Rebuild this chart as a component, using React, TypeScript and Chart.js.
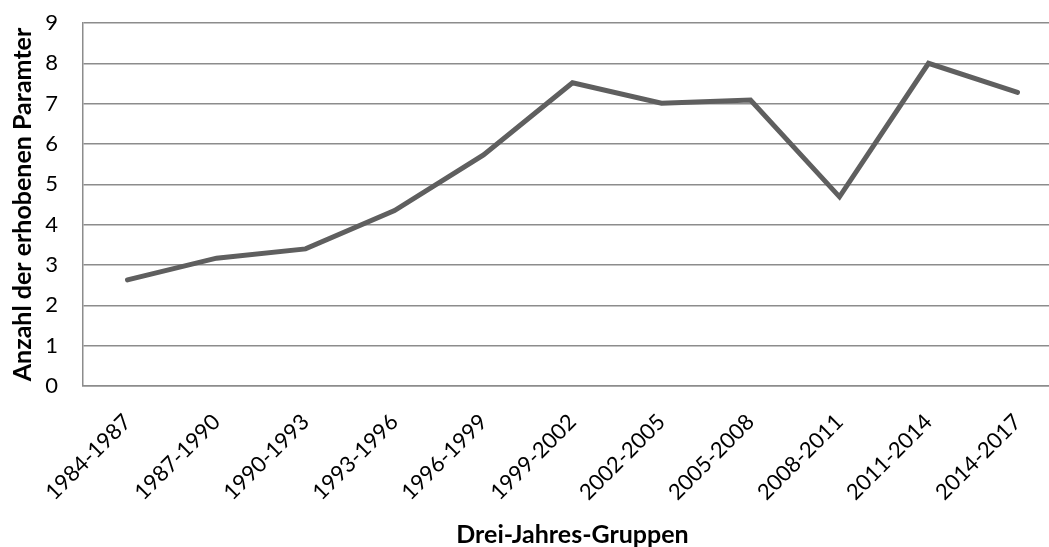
import React, { useEffect, useRef } from "react";
import { Chart, registerables } from "chart.js";

Chart.register(...registerables);

const categories = [
  "1984-1987", "1987-1990", "1990-1993", "1993-1996", "1996-1999", "1999-2002",
  "2002-2005", "2005-2008", "2008-2011", "2011-2014", "2014-2017",
];
const values = [2.63, 3.17, 3.4, 4.35, 5.73, 7.52, 7.01, 7.09, 4.69, 8.0, 7.28];
const yTitle = "Anzahl der erhobenen Paramter";
const xTitle = "Drei-Jahres-Gruppen";

const FONT = "Lato, 'Noto Sans', sans-serif";

export default function App() {
  const ref = useRef<HTMLCanvasElement | null>(null);
  useEffect(() => {
    document.body.style.margin = "0";
    document.body.style.overflow = "hidden";
    const chart = new Chart(ref.current!, {
      type: "line",
      data: {
        labels: categories,
        datasets: [
          {
            data: values,
            borderColor: "#5f5f5f",
            borderWidth: 5,
            pointRadius: 0,
            tension: 0,
            borderCapStyle: "round",
            borderJoinStyle: "miter",
          },
        ],
      },
      options: {
        animation: false,
        responsive: false,
        maintainAspectRatio: false,
        layout: { padding: { top: 23, left: 0, right: 0, bottom: 0 } },
        plugins: { legend: { display: false }, tooltip: { enabled: false } },
        scales: {
          x: {
            offset: true,
            grid: { display: false, drawTicks: false },
            border: { display: true, color: "#8c8c8c", width: 1.5 },
            ticks: {
              color: "#000",
              font: { family: FONT, size: 22 },
              maxRotation: 45,
              minRotation: 45,
              padding: 23,
              autoSkip: false,
            },
            title: {
              display: true,
              text: xTitle,
              color: "#000",
              font: { family: FONT, size: 25, weight: "bold", lineHeight: 1 },
              padding: { top: 4, bottom: 0 },
            },
            afterFit: (s: any) => {
              s.height = 161;
            },
          },
          y: {
            min: 0,
            max: 9,
            grid: { color: "#8c8c8c", lineWidth: 1.5, drawTicks: false },
            border: { display: true, color: "#8c8c8c", width: 1.5 },
            ticks: {
              stepSize: 1,
              color: "#000",
              font: { family: FONT, size: 22 },
              padding: 25,
            },
            title: {
              display: true,
              text: yTitle,
              color: "#000",
              font: { family: FONT, size: 25, weight: "bold", lineHeight: 1 },
              padding: { top: 10, bottom: 0 },
            },
            afterFit: (s: any) => {
              s.width = 83;
              s.paddingTop = 0;
              s.paddingBottom = 0;
            },
          },
        },
      },
    });
    return () => chart.destroy();
  }, []);
  return (
    <div style={{ position: "absolute", left: 0, top: 0, width: 1062, height: 547 }}>
      <canvas ref={ref} width={1062} height={547} style={{ display: "block" }} />
    </div>
  );
}
